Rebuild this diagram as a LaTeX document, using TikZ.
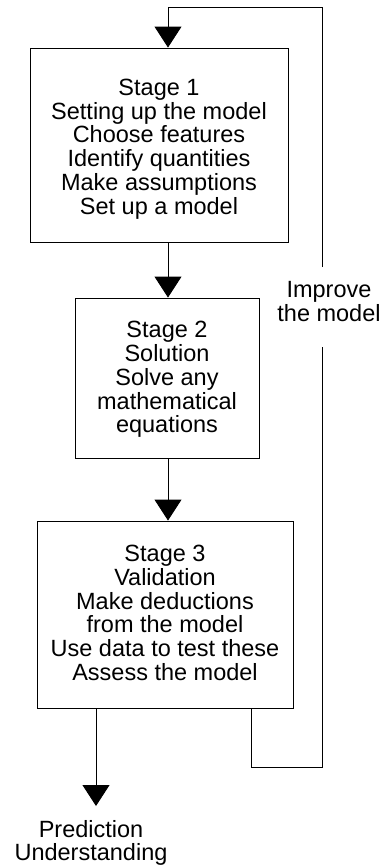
\documentclass[tikz,border=0pt]{standalone}
\usepackage{fontspec}
\setmainfont{Liberation Sans}
\usetikzlibrary{arrows.meta}
\begin{document}
\begin{tikzpicture}[x=1pt,y=-1pt,
  line width=0.9pt,
  every node/.style={font=\fontsize{23.5}{23.8}\selectfont, align=center, inner sep=0pt},
  stagebox/.style={draw, rectangle},
  arr/.style={-{Triangle[width=27pt,length=21pt]}},
  lbl/.style={}]
\useasboundingbox (0,0) rectangle (386,865);
\node[stagebox, minimum width=258pt, minimum height=194pt] (b1) at (159,145) {};
\node[stagebox, minimum width=184pt, minimum height=160pt] (b2) at (167,378) {};
\node[stagebox, minimum width=256pt, minimum height=187pt] (b3) at (165,614.5) {};
\node[lbl] (t1) at (159,149)
  {Stage 1\\Setting up the model\\Choose features\\Identify quantities\\Make assumptions\\Set up a model};
\node[lbl] (t2) at (167,379.5)
  {Stage 2\\Solution\\Solve any\\mathematical\\equations};
\node[lbl] (t3) at (165,613)
  {Stage 3\\Validation\\Make deductions\\from the model\\Use data to test these\\Assess the model};
\node[lbl] (imp) at (329,301.5) {Improve\\the model};
\node[lbl] (out) at (91,843) {Prediction\\Understanding};
\coordinate (ax) at (168,0);
\coordinate (ox) at (96,806);
\coordinate (c1) at (251,767);
\coordinate (r1) at (322,267);
\coordinate (r2) at (322,347);
\coordinate (tr) at (322,7);
\draw[arr] (r1) -- (tr) -| (b1.north -| ax);
\draw[arr] (b1.south -| ax) -- (b2.north -| ax);
\draw[arr] (b2.south -| ax) -- (b3.north -| ax);
\draw (b3.south -| c1) -- (c1) -- (c1 -| r2) -- (r2);
\draw[arr] (b3.south -| ox) -- (ox);
\end{tikzpicture}
\end{document}
